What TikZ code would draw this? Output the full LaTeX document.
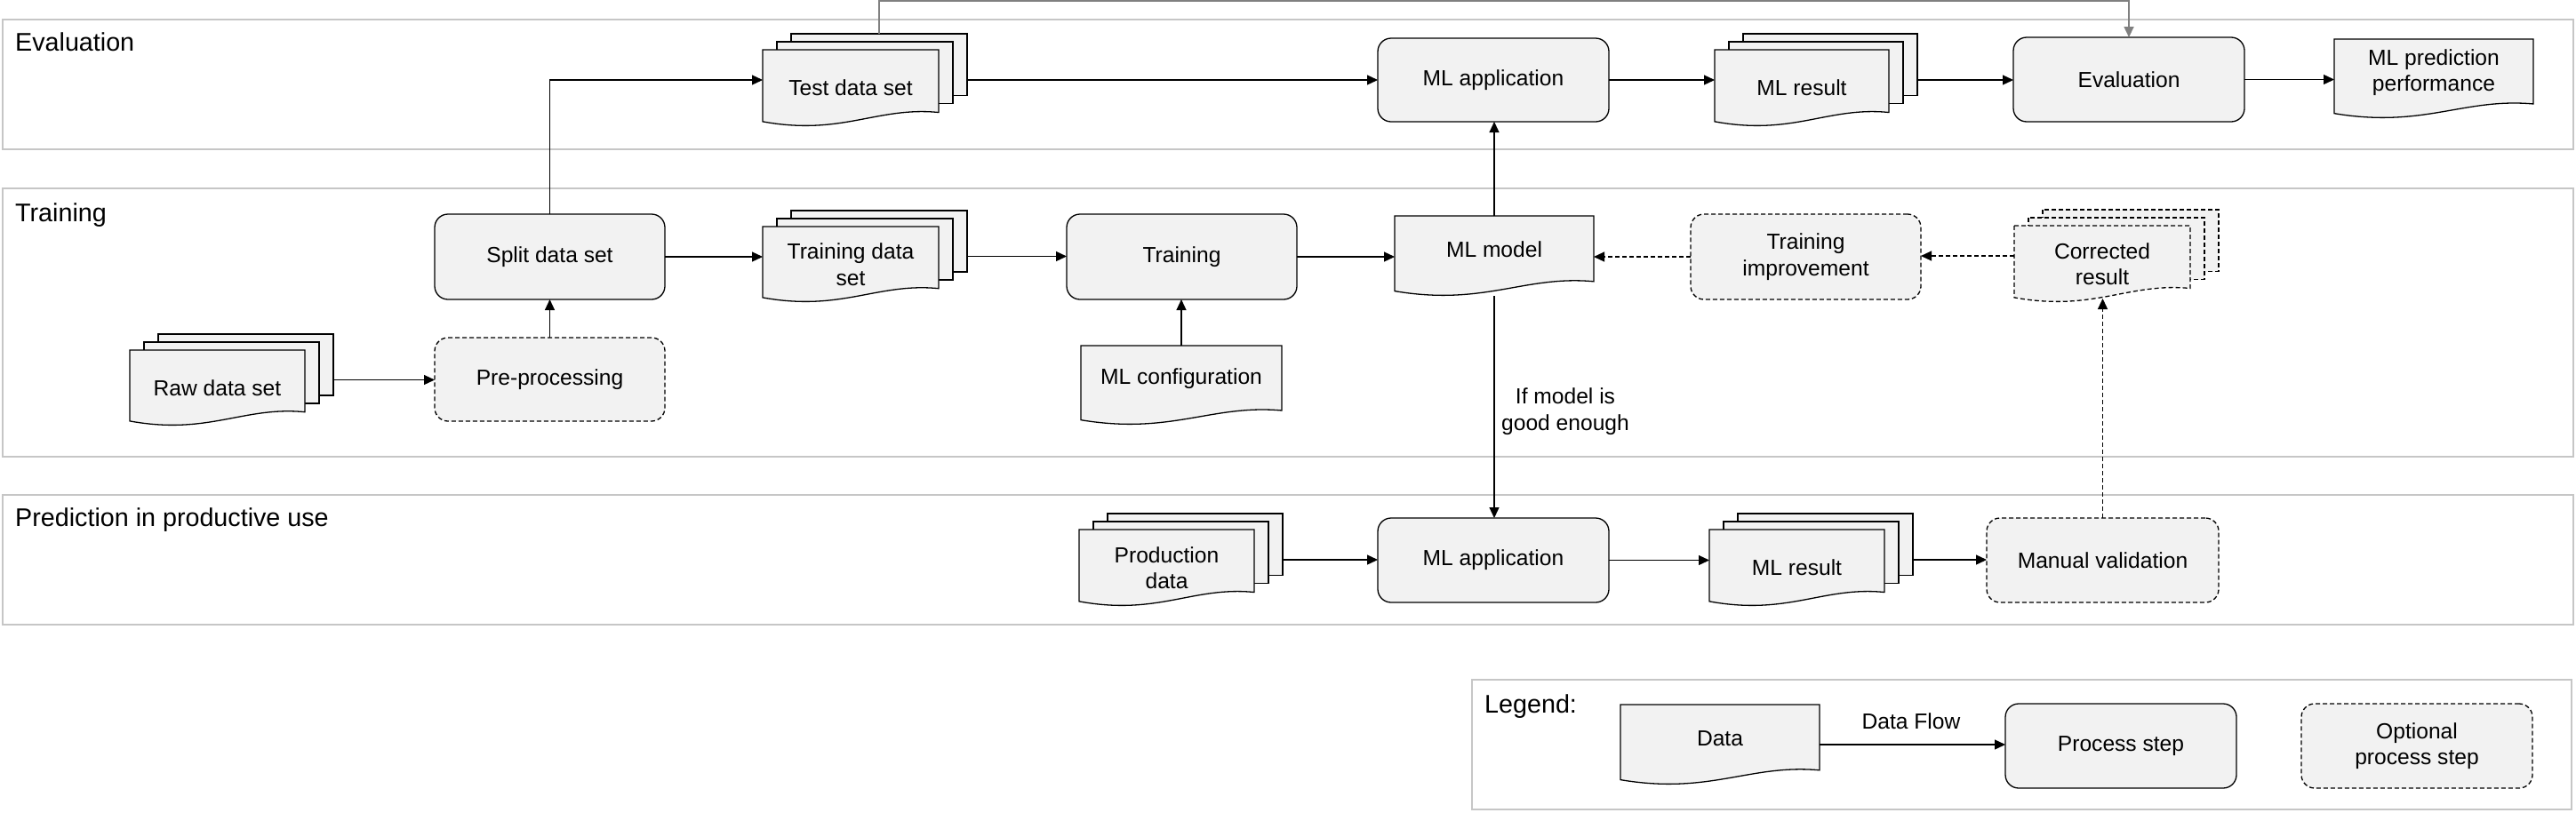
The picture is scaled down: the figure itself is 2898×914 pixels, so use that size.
\documentclass[tikz,border=0pt]{standalone}
\usepackage{fontspec}
\setmainfont{Liberation Sans}
\usetikzlibrary{arrows.meta,calc}
\definecolor{boxfill}{HTML}{F2F2F2}
\definecolor{lanegray}{HTML}{C6C6C6}
\definecolor{topgray}{HTML}{808080}
\newcommand{\nf}{\fontsize{24.6}{29.5}\selectfont}
\newcommand{\lf}{\fontsize{28.7}{34}\selectfont}
% rectangle-like node from corners: style, name, x0, y0, x1, y1, text
\newcommand{\pbox}[7]{%
  \pgfmathsetmacro{\pbcx}{(#3+#5)/2}%
  \pgfmathsetmacro{\pbcy}{(#4+#6)/2}%
  \pgfmathsetmacro{\pbw}{#5-#3}%
  \pgfmathsetmacro{\pbh}{#6-#4}%
  \node[#1,minimum width=\pbw pt,minimum height=\pbh pt] (#2) at (\pbcx,\pbcy) {#7};%
}
% document outline: style, x0, y0, x1, y1
\newcommand{\docshape}[5]{%
  \pgfmathsetmacro{\dcw}{#4-#2}%
  \pgfmathsetmacro{\dch}{#5-#3}%
  \draw[#1] (#2,#3) -- (#4,#3) -- (#4,#3+0.82*\dch)
    .. controls (#2+0.65*\dcw,#3+0.74*\dch) and (#2+0.45*\dcw,#3+1.13*\dch) .. (#2,#3+0.94*\dch) -- cycle;%
}
% single document: style, name, x0, y0, x1, y1, text
\newcommand{\docbox}[7]{%
  \docshape{#1}{#3}{#4}{#5}{#6}%
  \pbox{ghost}{#2}{#3}{#4}{#5}{#6}{}%
  \pgfmathsetmacro{\dbcx}{(#3+#5)/2}%
  \pgfmathsetmacro{\dbcy}{(#4+#6)/2-7}%
  \node[ghost] (#2-t) at (\dbcx,\dbcy) {#7};%
}
% stack of documents: style, name, x0, y0, x1, y1, text
\newcommand{\stackbox}[7]{%
  \pgfmathsetmacro{\skxa}{#3+16}%
  \pgfmathsetmacro{\skxb}{#3+32}%
  \pgfmathsetmacro{\skxr}{#5-32}%
  \pgfmathsetmacro{\skxm}{#5-16}%
  \pgfmathsetmacro{\skya}{#4+9}%
  \pgfmathsetmacro{\skyb}{#4+18}%
  \pgfmathsetmacro{\skp}{0.81*(#6-#4-18)}%
  \pgfmathsetmacro{\skyba}{#4+\skp}%
  \pgfmathsetmacro{\skybb}{\skya+\skp}%
  \draw[#1] (\skxb,#4) rectangle (#5,\skyba);%
  \draw[#1] (\skxa,\skya) rectangle (\skxm,\skybb);%
  \docshape{#1}{#3}{\skyb}{\skxr}{#6}%
  \pbox{ghost}{#2}{#3}{#4}{#5}{#6}{}%
  \pbox{ghost}{#2-b}{\skxb}{#4}{#5}{\skyba}{}%
  \pbox{ghost}{#2-f}{#3}{\skyb}{\skxr}{#6}{#7}%
}
\begin{document}
\begin{tikzpicture}[x=1pt,y=-1pt,
  ghost/.style={inner sep=0pt, outer sep=0pt, align=center, font=\nf},
  proc/.style={ghost, draw=black, fill=boxfill, line width=1.3pt, rounded corners=15pt},
  optproc/.style={proc, dash pattern=on 5pt off 3pt},
  docline/.style={draw=black, fill=boxfill, line width=1.3pt},
  docopt/.style={docline, dash pattern=on 5pt off 3pt},
  lane/.style={ghost, draw=lanegray, line width=1.3pt},
  conn/.style={draw=black, line width=1.2pt, -{Triangle[length=12pt,width=11pt]}},
  optconn/.style={conn, dash pattern=on 5pt off 3pt},
  title/.style={anchor=base west, inner sep=0pt, font=\lf}]
\useasboundingbox (0,0) rectangle (2898,914);
\fill[white] (0,0) rectangle (2898,914);

% lanes
\pbox{lane}{laneEval}{3}{22}{2895}{168}{}
\pbox{lane}{laneTrain}{3}{212}{2895}{514}{}
\pbox{lane}{lanePred}{3}{557}{2895}{703}{}
\pbox{lane}{legend}{1656}{765}{2893}{911}{}
\node[title] (tEval) at (17,57.5) {Evaluation};
\node[title] (tTrain) at (17,249) {Training};
\node[title] (tPred) at (17,592.5) {Prediction in productive use};
\node[title] (tLeg) at (1670,802) {Legend:};

% evaluation lane
\stackbox{docline}{testdata}{858}{38}{1088}{142}{Test data set}
\pbox{proc}{mlappA}{1550}{43}{1810}{137}{ML application}
\stackbox{docline}{mlresA}{1929}{38}{2157}{142}{ML result}
\pbox{proc}{evalp}{2265}{42}{2525}{137}{Evaluation}
\docbox{docline}{perf}{2626}{44}{2850}{133}{ML prediction\\performance}

% training lane
\pbox{proc}{split}{489}{241}{748}{337}{Split data set}
\stackbox{docline}{traindata}{858}{237}{1088}{340}{Training data\\set}
\pbox{proc}{training}{1200}{241}{1459}{337}{Training}
\docbox{docline}{mlmodel}{1569}{243}{1793}{333}{ML model}
\pbox{optproc}{trainimp}{1902}{241}{2161}{337}{Training\\improvement}
\stackbox{docopt}{corrected}{2266}{236}{2496}{340}{Corrected\\result}
\stackbox{docline}{raw}{146}{376}{375}{479}{Raw data set}
\pbox{optproc}{preproc}{489}{380}{748}{474}{Pre-processing}
\docbox{docline}{mlconfig}{1216}{389}{1442}{478}{ML configuration}
\node[ghost] (cond) at (1761,463) {If model is\\good enough};

% prediction lane
\stackbox{docline}{proddata}{1214}{578}{1443}{682}{Production\\data}
\pbox{proc}{mlappB}{1550}{583}{1810}{678}{ML application}
\stackbox{docline}{mlresB}{1923}{578}{2152}{682}{ML result}
\pbox{optproc}{manual}{2235}{583}{2496}{678}{Manual validation}

% legend
\docbox{docline}{legdata}{1823}{793}{2047}{883}{Data}
\node[ghost] (legflow) at (2150,812) {Data Flow};
\pbox{proc}{legproc}{2256}{792}{2516}{887}{Process step}
\pbox{optproc}{legopt}{2589}{792}{2849}{887}{Optional\\process step}

% connectors
\coordinate (topy) at (0,1);
\draw[conn] (raw.east) -- (raw.east -| preproc.west);
\draw[conn] (preproc.north) -- (split.south);
\draw[conn] (split.east) -- (split.east -| traindata.west);
\draw[conn] (split.north) |- (testdata.west);
\draw[conn] (testdata.east) -- (testdata.east -| mlappA.west);
\draw[conn] (mlappA.east) -- (mlappA.east -| mlresA.west);
\draw[conn] (mlresA.east) -- (mlresA.east -| evalp.west);
\draw[conn] (evalp.east) -- (evalp.east -| perf.west);
\draw[conn, draw=topgray, line width=1.6pt] (testdata-b.north) -- (testdata-b.north |- topy) -| (evalp.north);
\draw[conn] (traindata.east) -- (traindata.east -| training.west);
\draw[conn] (mlconfig.north) -- (mlconfig.north |- training.south);
\draw[conn] (training.east) -- (training.east -| mlmodel.west);
\draw[conn] (mlmodel.north) -- (mlmodel.north |- mlappA.south);
\draw[conn] (mlmodel.south) -- (mlmodel.south |- mlappB.north);
\draw[optconn] (trainimp.west) -- (trainimp.west -| mlmodel.east);
\draw[optconn] (corrected.west) -- (corrected.west -| trainimp.east);
\draw[optconn] (manual.north) -- ($(manual.north |- corrected-f.south)+(0,-4)$);
\draw[conn] (proddata.east) -- (proddata.east -| mlappB.west);
\draw[conn] (mlappB.east) -- (mlappB.east -| mlresB.west);
\draw[conn] (mlresB.east) -- (mlresB.east -| manual.west);
\draw[conn] (legdata.east) -- (legdata.east -| legproc.west);
\end{tikzpicture}
\end{document}
